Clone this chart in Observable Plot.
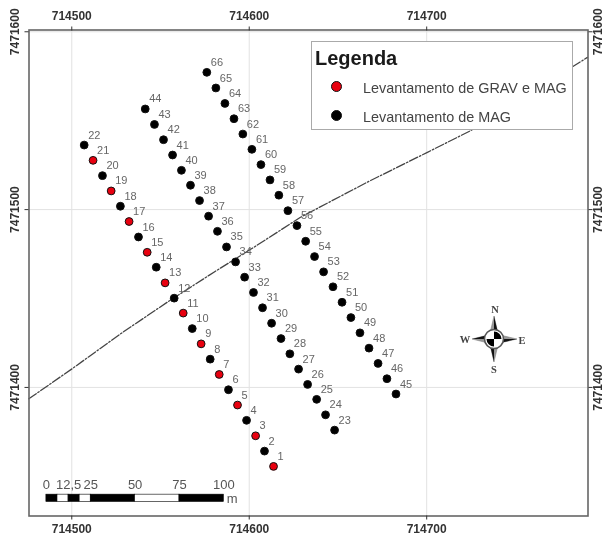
<!DOCTYPE html>
<html><head><meta charset="utf-8">
<script src="https://cdn.jsdelivr.net/npm/d3@7"></script>
<script src="https://cdn.jsdelivr.net/npm/@observablehq/plot@0.6"></script>
<style>
html,body{margin:0;padding:0;background:#fff}
#wrap{position:relative;width:604px;height:535px;overflow:hidden;font-family:"Liberation Sans",Arial,sans-serif;filter:blur(.4px)}
#wrap svg{display:block}
#legend{position:absolute;left:311px;top:41px;width:260px;height:87px;background:#fff;border:1px solid #aaa;color:#444}
#legend .t{position:absolute;left:3px;top:4px;font-size:20px;font-weight:bold;color:#1a1a1a;line-height:24px}
#legend .l{position:absolute;left:51px;font-size:14.4px;line-height:16px;white-space:nowrap}
#legend .s{position:absolute;left:19px;width:9px;height:9px;border-radius:50%;border:1px solid #111}
#compass{position:absolute;left:454px;top:294px}
</style></head><body>
<div id="wrap">
<div id="chart"></div>
<div id="legend">
 <div class="t">Legenda</div>
 <div class="s" style="top:39px;background:#e8000f"></div>
 <div class="l" style="top:38px">Levantamento de GRAV e MAG</div>
 <div class="s" style="top:68px;background:#000"></div>
 <div class="l" style="top:67px">Levantamento de MAG</div>
</div>
<svg id="compass" width="84" height="90" viewBox="-40 -45 84 90">
 <g fill="#999" stroke="#777" stroke-width=".5">
  <path d="M0,-23 L3.5,-8 L-3.5,-8Z"/><path d="M0,23 L3.5,8 L-3.5,8Z"/>
  <path d="M-22,0 L-8,-3.5 L-8,3.5Z"/><path d="M23,0 L8,-3.5 L8,3.5Z"/>
 </g>
 <g fill="#111" stroke="none">
  <path d="M0,-23 L3.5,-8 L0,-8Z"/><path d="M0,23 L-3.5,8 L0,8Z"/>
  <path d="M-22,0 L-8,-3.5 L-8,0Z"/><path d="M23,0 L8,3.5 L8,0Z"/>
 </g>
 <circle r="9.5" fill="#fff" stroke="#555" stroke-width="1.6"/>
 <path d="M0,0 L0,-7.5 A7.5,7.5 0 0 1 7.5,0Z M0,0 L0,7.5 A7.5,7.5 0 0 1 -7.5,0Z" fill="#000"/>
 <g font-family="Liberation Serif,serif" font-weight="bold" font-size="10.5" fill="#444" text-anchor="middle">
  <text x="1" y="-26">N</text><text x="0" y="34">S</text><text x="-29" y="3.5">W</text><text x="28" y="4.5">E</text>
 </g>
</svg>
</div>
<script>
// Line 1: stations 1..22
const line1Id = [22,21,20,19,18,17,16,15,14,13,12,11,10,9,8,7,6,5,4,3,2,1];
const line1E = [714507.0,714512.0,714517.3,714522.2,714527.4,714532.3,714537.6,714542.5,714547.6,714552.6,714557.7,714562.8,714567.9,714572.9,714578.0,714583.1,714588.3,714593.4,714598.5,714603.6,714608.6,714613.7];
const line1N = [7471536.3,7471527.7,7471519.1,7471510.5,7471501.9,7471493.3,7471484.6,7471476.0,7471467.6,7471458.8,7471450.2,7471441.8,7471433.1,7471424.5,7471415.9,7471407.3,7471398.7,7471390.1,7471381.5,7471372.8,7471364.2,7471355.6];
// Line 2: stations 23..44
const line2Id = [44,43,42,41,40,39,38,37,36,35,34,33,32,31,30,29,28,27,26,25,24,23];
const line2E = [714541.4,714546.6,714551.7,714556.8,714561.8,714566.9,714572.0,714577.1,714582.1,714587.2,714592.3,714597.4,714602.4,714607.5,714612.6,714617.9,714622.9,714627.8,714632.9,714638.0,714643.0,714648.1];
const line2N = [7471556.6,7471547.9,7471539.3,7471530.7,7471522.1,7471513.7,7471505.1,7471496.3,7471487.8,7471479.0,7471470.6,7471462.0,7471453.4,7471444.8,7471436.1,7471427.5,7471418.9,7471410.3,7471401.7,7471393.3,7471384.6,7471376.0];
// Line 3: stations 45..66
const line3Id = [66,65,64,63,62,61,60,59,58,57,56,55,54,53,52,51,50,49,48,47,46,45];
const line3E = [714576.1,714581.2,714586.3,714591.4,714596.4,714601.5,714606.6,714611.7,714616.7,714621.8,714626.9,714631.8,714636.8,714641.9,714647.2,714652.3,714657.3,714662.4,714667.5,714672.6,714677.6,714682.7];
const line3N = [7471577.2,7471568.4,7471559.7,7471551.1,7471542.5,7471533.9,7471525.3,7471516.7,7471508.1,7471499.4,7471491.0,7471482.2,7471473.6,7471465.0,7471456.6,7471447.9,7471439.3,7471430.7,7471422.1,7471413.5,7471404.9,7471396.3];
// Stations surveyed with both gravity and magnetics
const gravIds = [1,3,5,7,9,11,13,15,17,19,21];
// Dash-dot lineament
const lineE = [714475.8,714500.2,714527.4,714553.8,714580.1,714602.6,714628.9,714666.5,714700.4,714724.8,714790.6];
const lineN = [7471393.6,7471410.5,7471430.1,7471447.9,7471464.8,7471478.8,7471495.7,7471515.4,7471532.2,7471544.4,7471585.6];
// Axis ticks
const xTicks = [714500,714600,714700];
const yTicks = [7471400,7471500,7471600];
// Scale bar (metres)
const barEdges = [0,6.25,12.5,18.75,25,50,75,100];
const barLabels = ["0","12,5","25","50","75","100"];
const barLabelAt = [0,12.5,25,50,75,100];

const stations = [[line1Id,line1E,line1N],[line2Id,line2E,line2N],[line3Id,line3E,line3N]]
  .flatMap(([ids,e,n]) => ids.map((id,i) => ({id,e:e[i],n:n[i],grav:gravIds.includes(id)})));
const fault = lineE.map((e,i) => ({e,n:lineN[i]}));

const barOriginE = 714485.7, barTopN = 7471339.7, barBottomN = 7471335.6, barTextN = 7471345.4;
const segments = barEdges.slice(0,-1).map((d,i) => ({a:barOriginE+d,b:barOriginE+barEdges[i+1],black:i%2===0}));

const axisStyle = {fontSize:12,fontWeight:"bold",fill:"#333"};
const plot = Plot.plot({
  width:604,height:535,
  marginLeft:28.5,marginRight:16.5,marginTop:29.5,marginBottom:19.5,
  style:{fontFamily:'"Liberation Sans",Arial,sans-serif',background:"#fff",overflow:"visible"},
  x:{domain:[714475.9,714790.9],ticks:xTicks},
  y:{domain:[7471327.7,7471601],ticks:yTicks},
  marks:[
    Plot.gridX(xTicks,{stroke:"#e2e2e2",strokeOpacity:1,strokeWidth:1}),
    Plot.gridY(yTicks,{stroke:"#e2e2e2",strokeOpacity:1,strokeWidth:1}),
    Plot.line(fault,{x:"e",y:"n",stroke:"#444",strokeWidth:1.3,strokeDasharray:"9,2,1.5,2"}),
    Plot.dot(stations,{x:"e",y:"n",r:3.9,fill:d=>d.grav?"#e8000f":"#000",stroke:"#111",strokeWidth:1}),
    Plot.text(stations,{x:"e",y:"n",text:"id",dx:4,dy:-10,textAnchor:"start",fontSize:11,fill:"#666"}),
    Plot.rect(segments,{x1:"a",x2:"b",y1:barBottomN,y2:barTopN,fill:d=>d.black?"#000":"#fff",stroke:"#000",strokeWidth:.6}),
    Plot.text(barLabels,{x:(d,i)=>barOriginE+barLabelAt[i],y:()=>barTextN,text:d=>d,fontSize:13,fill:"#555"}),
    Plot.text(["m"],{x:()=>barOriginE+100,y:()=>barBottomN+2,text:d=>d,dx:3,textAnchor:"start",fontSize:13,fill:"#555"}),
    Plot.frame({stroke:"#666",strokeWidth:1.6}),
    Plot.axisX(xTicks,{anchor:"top",tickSize:4,tickPadding:6,tickFormat:"d",label:null,stroke:"#333",...axisStyle}),
    Plot.axisX(xTicks,{anchor:"bottom",tickSize:4,tickPadding:4,tickFormat:"d",label:null,stroke:"#333",...axisStyle}),
    Plot.axisY(yTicks,{anchor:"left",tickSize:4,tickPadding:6,tickRotate:-90,tickFormat:"d",label:null,stroke:"#333",textAnchor:"middle",...axisStyle}),
    Plot.axisY(yTicks,{anchor:"right",tickSize:4,tickPadding:10,tickRotate:-90,tickFormat:"d",label:null,stroke:"#333",textAnchor:"middle",...axisStyle})
  ]
});
document.getElementById("chart").append(plot);
</script>
</body></html>
